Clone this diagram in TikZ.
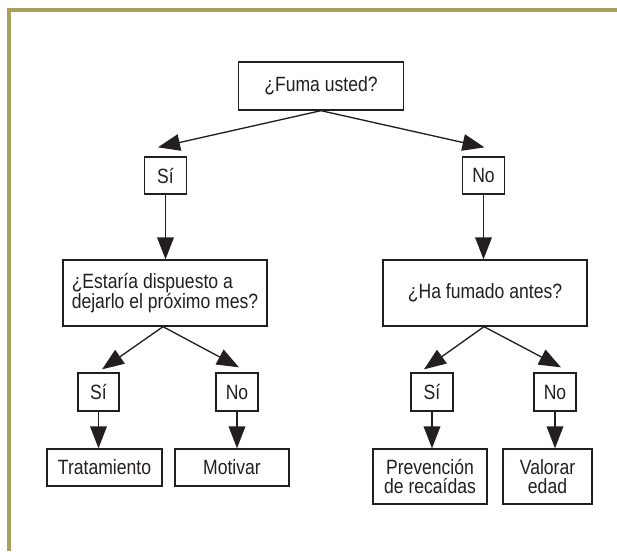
\documentclass[tikz,border=0pt]{standalone}
\usepackage{fontspec}
\setmainfont{Liberation Sans}[FakeStretch=0.85]
\usetikzlibrary{arrows.meta}
\definecolor{frameolive}{RGB}{170,162,92}
\definecolor{ink}{RGB}{35,31,32}
\begin{document}
\begin{tikzpicture}[x=0.75pt,y=-0.75pt,
  box/.style={draw=ink,line width=1pt,fill=white,text=ink,inner sep=0pt,
    font=\fontsize{15.5}{14.5}\selectfont},
  arr/.style={draw=ink,line width=1pt,-{Triangle[length=16.5pt,width=12.5pt]}}]
\useasboundingbox (0,0) rectangle (617,551);
% frame
\draw[frameolive,line width=2.4pt] (9,551) -- (9,10) -- (617,10);
% nodes
\node[box,minimum width=165*0.75pt,minimum height=48*0.75pt] (fuma) at (321,86) {¿Fuma usted?};
\node[box,minimum width=42*0.75pt,minimum height=37*0.75pt] (si1) at (165.5,175.5) {Sí};
\node[box,minimum width=42*0.75pt,minimum height=37*0.75pt] (no1) at (483.5,175.5) {No};
\node[box,minimum width=204*0.75pt,minimum height=66*0.75pt,align=left] (est) at (165,293) {¿Estaría dispuesto a\\dejarlo el próximo mes?};
\node[box,minimum width=204*0.75pt,minimum height=66*0.75pt] (ha) at (485,293) {¿Ha fumado antes?};
\node[box,minimum width=41*0.75pt,minimum height=38*0.75pt] (si2) at (98.5,392) {Sí};
\node[box,minimum width=42*0.75pt,minimum height=38*0.75pt] (no2) at (237,392) {No};
\node[box,minimum width=42*0.75pt,minimum height=38*0.75pt] (si3) at (432,392) {Sí};
\node[box,minimum width=42*0.75pt,minimum height=38*0.75pt] (no3) at (555,392) {No};
\node[box,minimum width=115*0.75pt,minimum height=37*0.75pt] (trat) at (104.5,467.5) {Tratamiento};
\node[box,minimum width=114*0.75pt,minimum height=37*0.75pt] (mot) at (232,467.5) {Motivar};
\node[box,minimum width=114*0.75pt,minimum height=55*0.75pt,align=center] (prev) at (430,476.5) {Prevención\\de recaídas};
\node[box,minimum width=89*0.75pt,minimum height=55*0.75pt,align=center] (val) at (547.5,476.5) {Valorar\\edad};
% diagonal arrows
\draw[arr] (fuma.south) -- ([xshift=-7.5*0.75pt,yshift=9*0.75pt]si1.north);
\draw[arr] (fuma.south) -- ([xshift=1*0.75pt,yshift=9*0.75pt]no1.north);
\draw[arr] ([xshift=-2*0.75pt]est.south) -- ([xshift=3.5*0.75pt,yshift=3*0.75pt]si2.north);
\draw[arr] ([xshift=-2*0.75pt]est.south) -- ([xshift=2*0.75pt,yshift=5*0.75pt]no2.north);
\draw[arr] ([xshift=-1*0.75pt]ha.south) -- ([xshift=-8*0.75pt,yshift=3*0.75pt]si3.north);
\draw[arr] ([xshift=-1*0.75pt]ha.south) -- ([xshift=6*0.75pt,yshift=5*0.75pt]no3.north);
% vertical arrows
\draw[arr] (si1.south) -- (si1.south |- est.north);
\draw[arr] (no1.south) -- (no1.south |- ha.north);
\draw[arr] (si2.south) -- (si2.south |- trat.north);
\draw[arr] (no2.south) -- (no2.south |- mot.north);
\draw[arr] (si3.south) -- (si3.south |- prev.north);
\draw[arr] (no3.south) -- (no3.south |- val.north);
\end{tikzpicture}
\end{document}
